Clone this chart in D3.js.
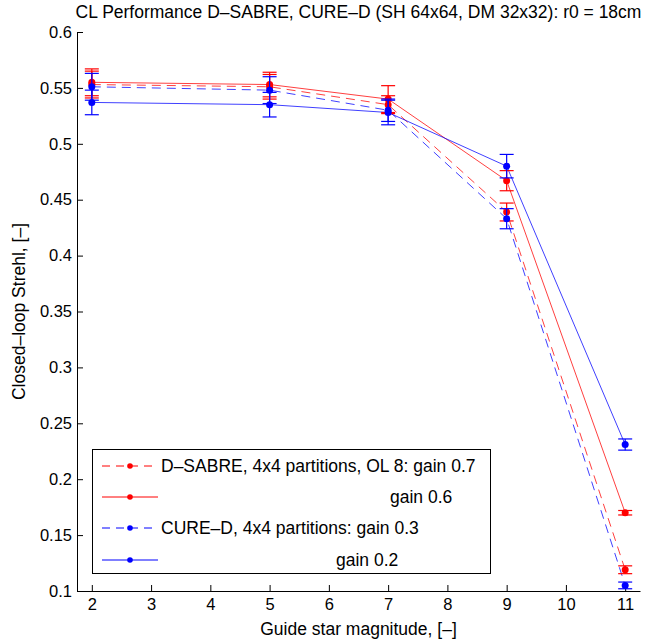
<!DOCTYPE html>
<html>
<head>
<meta charset="utf-8">
<script src="https://cdn.jsdelivr.net/npm/d3@7"></script>
<style>
  body { margin: 0; background: #fff; }
  text { font-family: "Liberation Sans", Arial, sans-serif; }
</style>
</head>
<body>
<div class="svg-container"></div>
<script>
// guide star magnitudes
const magnitudes = [2, 5, 7, 9, 11];

// closed-loop Strehl and error half-widths
const sabreG07 = [0.553, 0.551, 0.535, 0.439, 0.119];
const sabreG07Err = [0.012, 0.011, 0.008, 0.008, 0.0035];
const sabreG06 = [0.555, 0.553, 0.540, 0.467, 0.170];
const sabreG06Err = [0.012, 0.011, 0.012, 0.009, 0.002];
const cureG03 = [0.551, 0.548, 0.530, 0.433, 0.105];
const cureG03Err = [0.012, 0.012, 0.010, 0.009, 0.003];
const cureG02 = [0.537, 0.535, 0.528, 0.480, 0.231];
const cureG02Err = [0.011, 0.011, 0.011, 0.0105, 0.005];

const xTicks = [2, 3, 4, 5, 6, 7, 8, 9, 10, 11];
const yTicks = [0.1, 0.15, 0.2, 0.25, 0.3, 0.35, 0.4, 0.45, 0.5, 0.55, 0.6];
const yTickLabels = ["0.1", "0.15", "0.2", "0.25", "0.3", "0.35", "0.4", "0.45", "0.5", "0.55", "0.6"];

const legendLabels = [
    "D\u2013SABRE, 4x4 partitions, OL 8: gain 0.7",
    "gain 0.6",
    "CURE\u2013D, 4x4 partitions: gain 0.3",
    "gain 0.2",
];

const series = [
    { values: sabreG07, errors: sabreG07Err, color: "#ff0000", dashed: true },
    { values: sabreG06, errors: sabreG06Err, color: "#ff0000", dashed: false },
    { values: cureG03, errors: cureG03Err, color: "#0000ff", dashed: true },
    { values: cureG02, errors: cureG02Err, color: "#0000ff", dashed: false },
];

const width = 648;
const height = 640;

const xScale = d3.scaleLinear().domain([1.75, 11.25]).range([77, 640]);
const yScale = d3.scaleLinear().domain([0.1, 0.6]).range([591, 32]);

const svg = d3.select(".svg-container").append("svg")
    .attr("width", width)
    .attr("height", height);

// axes (MATLAB style: ticks point inward, no box)
const xAxis = svg.append("g")
    .attr("transform", "translate(0," + yScale(0.1) + ")")
    .call(d3.axisBottom(xScale).tickValues(xTicks).tickSizeInner(-6).tickSizeOuter(0).tickPadding(7));
const yAxis = svg.append("g")
    .attr("transform", "translate(" + xScale(1.75) + ",0)")
    .call(d3.axisLeft(yScale).tickValues(yTicks)
        .tickFormat((d, i) => yTickLabels[i]).tickSizeInner(-6).tickSizeOuter(0).tickPadding(5));

[xAxis, yAxis].forEach(ax => {
    ax.selectAll("text").attr("font-size", 16.5).attr("fill", "#000")
        .attr("font-family", "Liberation Sans, Arial, sans-serif");
    ax.selectAll("line").attr("stroke", "#000");
    ax.select(".domain").attr("stroke", "#000");
});

// lines
const line = d3.line()
    .x((d, i) => xScale(magnitudes[i]))
    .y(d => yScale(d));

series.forEach(s => {
    svg.append("path")
        .datum(s.values)
        .attr("d", line)
        .attr("fill", "none")
        .attr("stroke", s.color)
        .attr("stroke-opacity", 0.75)
        .attr("stroke-width", 1)
        .attr("stroke-dasharray", s.dashed ? "9,6" : null);
});

// error bars and markers
series.forEach(s => {
    const g = svg.append("g").attr("stroke", s.color).attr("stroke-width", 1.2);
    s.values.forEach((v, i) => {
        const x = xScale(magnitudes[i]);
        const y0 = yScale(v - s.errors[i]);
        const y1 = yScale(v + s.errors[i]);
        g.append("line").attr("x1", x).attr("x2", x).attr("y1", y0).attr("y2", y1);
        g.append("line").attr("x1", x - 7).attr("x2", x + 7).attr("y1", y0).attr("y2", y0);
        g.append("line").attr("x1", x - 7).attr("x2", x + 7).attr("y1", y1).attr("y2", y1);
    });
    svg.append("g").selectAll("circle")
        .data(s.values)
        .enter()
        .append("circle")
        .attr("cx", (d, i) => xScale(magnitudes[i]))
        .attr("cy", d => yScale(d))
        .attr("r", 3.5)
        .attr("fill", s.color);
});

// legend
const legend = svg.append("g");
legend.append("rect")
    .attr("x", 92.5).attr("y", 449.5)
    .attr("width", 398).attr("height", 124)
    .attr("fill", "#fff").attr("stroke", "#000").attr("stroke-width", 1);

const legendRowY = [466, 497, 528, 560];
const legendTextX = [161, 390, 161, 336];
series.forEach((s, i) => {
    const y = legendRowY[i];
    legend.append("line")
        .attr("x1", 102).attr("x2", 158).attr("y1", y).attr("y2", y)
        .attr("stroke", s.color).attr("stroke-width", 1)
        .attr("stroke-dasharray", s.dashed ? "8,6" : null);
    legend.append("circle").attr("cx", 130).attr("cy", y).attr("r", 2.8).attr("fill", s.color);
    legend.append("text")
        .attr("x", legendTextX[i]).attr("y", y)
        .attr("dy", "0.35em")
        .attr("font-size", 17.5)
        .text(legendLabels[i]);
});

// titles
svg.append("text")
    .attr("x", (77 + 640) / 2).attr("y", 18)
    .attr("text-anchor", "middle")
    .attr("font-size", 17.5)
    .text("CL Performance D\u2013SABRE, CURE\u2013D (SH 64x64, DM 32x32): r0 = 18cm");

svg.append("text")
    .attr("x", (77 + 640) / 2).attr("y", 635)
    .attr("text-anchor", "middle")
    .attr("font-size", 17.5)
    .text("Guide star magnitude, [\u2013]");

svg.append("text")
    .attr("transform", "translate(25," + (32 + 591) / 2 + ") rotate(-90)")
    .attr("text-anchor", "middle")
    .attr("font-size", 17.5)
    .text("Closed\u2013loop Strehl, [\u2013]");
</script>
</body>
</html>
